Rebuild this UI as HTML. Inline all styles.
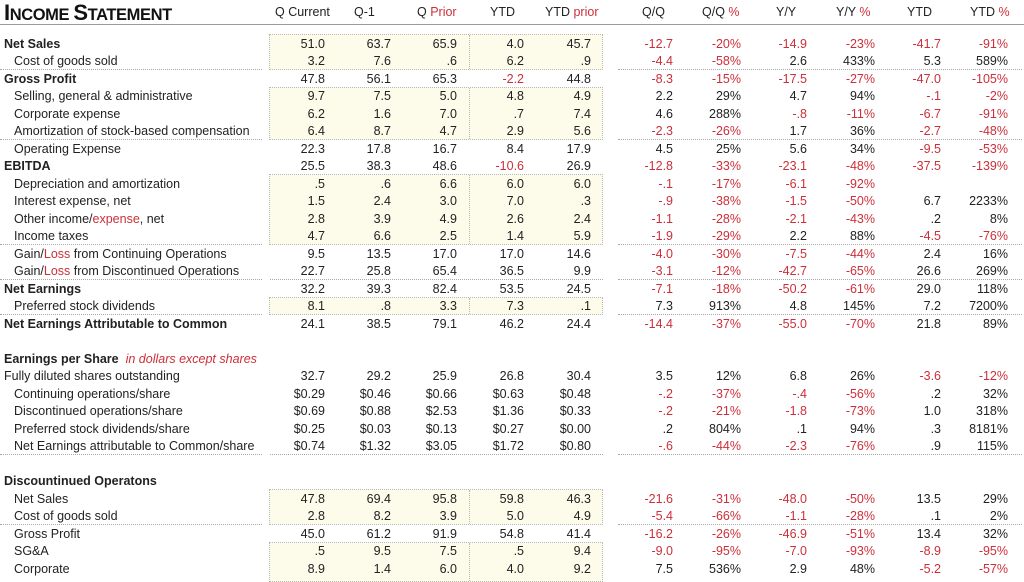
<!DOCTYPE html>
<html><head><meta charset="utf-8"><style>
*{margin:0;padding:0;box-sizing:border-box}
body{width:1024px;height:578px;background:#fff;position:relative;overflow:hidden;font-family:"Liberation Sans",sans-serif;font-size:12.5px;color:#222}
.t{position:absolute;left:4px;top:0px;font-weight:bold;font-size:16.5px;letter-spacing:-0.4px;color:#111}
.t big{font-size:22px}
.hl{position:absolute;left:0;top:24px;width:1024px;height:1px;background:#9a9a9a}
.h{position:absolute;top:5px;font-size:12.5px;white-space:nowrap}
.x{color:#cc2f3a}
.box{position:absolute;left:269px;width:334px;background:#fdfbe9;border:1px dotted #b8b8b8}
.box::after{content:"";position:absolute;left:199px;top:0;bottom:0;border-left:1px dotted #b8b8b8}
.dl{position:absolute;height:0;border-top:1px dotted #a8a8a8}
.r{position:absolute;left:0;width:1024px;height:17.5px;line-height:17.5px;white-space:nowrap;margin-top:1.5px}
.r span{position:absolute;top:0}
.l{left:14px}.lb{left:4px;font-weight:bold}
.a{right:699px}.b{right:633px}.c{right:567px}.d{right:500px}.e{right:433px}
.f{right:351px}.g{right:283px}.h2{right:217px}.i{right:149px}.j{right:83px}.k{right:16px}
</style></head><body>
<div class="t"><big>I</big>NCOME <big>S</big>TATEMENT</div>
<div class="h" style="left:275px">Q Current</div>
<div class="h" style="left:354px">Q-1</div>
<div class="h" style="left:417px">Q <span class="x">Prior</span></div>
<div class="h" style="left:490px">YTD</div>
<div class="h" style="left:545px">YTD <span class="x">prior</span></div>
<div class="h" style="left:642px">Q/Q</div>
<div class="h" style="left:702px">Q/Q <span class="x">%</span></div>
<div class="h" style="left:776px">Y/Y</div>
<div class="h" style="left:836px">Y/Y <span class="x">%</span></div>
<div class="h" style="left:907px">YTD</div>
<div class="h" style="left:970px">YTD <span class="x">%</span></div>
<div class="hl"></div>

<div class="box" style="top:34px;height:36px"></div>
<div class="box" style="top:87px;height:53px"></div>
<div class="box" style="top:174px;height:71px"></div>
<div class="box" style="top:297px;height:18px"></div>
<div class="box" style="top:489px;height:36px"></div>
<div class="box" style="top:542px;height:40px"></div>

<div class="dl" style="top:69px;left:0;width:262px"></div><div class="dl" style="top:69px;left:618px;width:404px"></div>
<div class="dl" style="top:139px;left:0;width:262px"></div><div class="dl" style="top:139px;left:618px;width:404px"></div>
<div class="dl" style="top:244px;left:0;width:262px"></div><div class="dl" style="top:244px;left:618px;width:404px"></div>
<div class="dl" style="top:279px;left:0;width:262px"></div><div class="dl" style="top:279px;left:270px;width:333px"></div><div class="dl" style="top:279px;left:618px;width:404px"></div>
<div class="dl" style="top:314px;left:0;width:262px"></div><div class="dl" style="top:314px;left:618px;width:404px"></div>
<div class="dl" style="top:454px;left:0;width:262px"></div><div class="dl" style="top:454px;left:270px;width:333px"></div><div class="dl" style="top:454px;left:618px;width:404px"></div>
<div class="dl" style="top:524px;left:0;width:262px"></div><div class="dl" style="top:524px;left:618px;width:404px"></div>

<div class="r" style="top:34.3px"><span class="lb">Net Sales</span><span class="a">51.0</span><span class="b">63.7</span><span class="c">65.9</span><span class="d">4.0</span><span class="e">45.7</span><span class="f x">-12.7</span><span class="g x">-20%</span><span class="h2 x">-14.9</span><span class="i x">-23%</span><span class="j x">-41.7</span><span class="k x">-91%</span></div>
<div class="r" style="top:51.8px"><span class="l">Cost of goods sold</span><span class="a">3.2</span><span class="b">7.6</span><span class="c">.6</span><span class="d">6.2</span><span class="e">.9</span><span class="f x">-4.4</span><span class="g x">-58%</span><span class="h2">2.6</span><span class="i">433%</span><span class="j">5.3</span><span class="k">589%</span></div>
<div class="r" style="top:69.3px"><span class="lb">Gross Profit</span><span class="a">47.8</span><span class="b">56.1</span><span class="c">65.3</span><span class="d x">-2.2</span><span class="e">44.8</span><span class="f x">-8.3</span><span class="g x">-15%</span><span class="h2 x">-17.5</span><span class="i x">-27%</span><span class="j x">-47.0</span><span class="k x">-105%</span></div>
<div class="r" style="top:86.8px"><span class="l">Selling, general &amp; administrative</span><span class="a">9.7</span><span class="b">7.5</span><span class="c">5.0</span><span class="d">4.8</span><span class="e">4.9</span><span class="f">2.2</span><span class="g">29%</span><span class="h2">4.7</span><span class="i">94%</span><span class="j x">-.1</span><span class="k x">-2%</span></div>
<div class="r" style="top:104.3px"><span class="l">Corporate expense</span><span class="a">6.2</span><span class="b">1.6</span><span class="c">7.0</span><span class="d">.7</span><span class="e">7.4</span><span class="f">4.6</span><span class="g">288%</span><span class="h2 x">-.8</span><span class="i x">-11%</span><span class="j x">-6.7</span><span class="k x">-91%</span></div>
<div class="r" style="top:121.8px"><span class="l">Amortization of stock-based compensation</span><span class="a">6.4</span><span class="b">8.7</span><span class="c">4.7</span><span class="d">2.9</span><span class="e">5.6</span><span class="f x">-2.3</span><span class="g x">-26%</span><span class="h2">1.7</span><span class="i">36%</span><span class="j x">-2.7</span><span class="k x">-48%</span></div>
<div class="r" style="top:139.3px"><span class="l">Operating Expense</span><span class="a">22.3</span><span class="b">17.8</span><span class="c">16.7</span><span class="d">8.4</span><span class="e">17.9</span><span class="f">4.5</span><span class="g">25%</span><span class="h2">5.6</span><span class="i">34%</span><span class="j x">-9.5</span><span class="k x">-53%</span></div>
<div class="r" style="top:156.8px"><span class="lb">EBITDA</span><span class="a">25.5</span><span class="b">38.3</span><span class="c">48.6</span><span class="d x">-10.6</span><span class="e">26.9</span><span class="f x">-12.8</span><span class="g x">-33%</span><span class="h2 x">-23.1</span><span class="i x">-48%</span><span class="j x">-37.5</span><span class="k x">-139%</span></div>
<div class="r" style="top:174.3px"><span class="l">Depreciation and amortization</span><span class="a">.5</span><span class="b">.6</span><span class="c">6.6</span><span class="d">6.0</span><span class="e">6.0</span><span class="f x">-.1</span><span class="g x">-17%</span><span class="h2 x">-6.1</span><span class="i x">-92%</span></div>
<div class="r" style="top:191.8px"><span class="l">Interest expense, net</span><span class="a">1.5</span><span class="b">2.4</span><span class="c">3.0</span><span class="d">7.0</span><span class="e">.3</span><span class="f x">-.9</span><span class="g x">-38%</span><span class="h2 x">-1.5</span><span class="i x">-50%</span><span class="j">6.7</span><span class="k">2233%</span></div>
<div class="r" style="top:209.3px"><span class="l">Other income/<span class="x" style="position:static">expense</span>, net</span><span class="a">2.8</span><span class="b">3.9</span><span class="c">4.9</span><span class="d">2.6</span><span class="e">2.4</span><span class="f x">-1.1</span><span class="g x">-28%</span><span class="h2 x">-2.1</span><span class="i x">-43%</span><span class="j">.2</span><span class="k">8%</span></div>
<div class="r" style="top:226.8px"><span class="l">Income taxes</span><span class="a">4.7</span><span class="b">6.6</span><span class="c">2.5</span><span class="d">1.4</span><span class="e">5.9</span><span class="f x">-1.9</span><span class="g x">-29%</span><span class="h2">2.2</span><span class="i">88%</span><span class="j x">-4.5</span><span class="k x">-76%</span></div>
<div class="r" style="top:244.3px"><span class="l">Gain/<span class="x" style="position:static">Loss</span> from Continuing Operations</span><span class="a">9.5</span><span class="b">13.5</span><span class="c">17.0</span><span class="d">17.0</span><span class="e">14.6</span><span class="f x">-4.0</span><span class="g x">-30%</span><span class="h2 x">-7.5</span><span class="i x">-44%</span><span class="j">2.4</span><span class="k">16%</span></div>
<div class="r" style="top:261.8px"><span class="l">Gain/<span class="x" style="position:static">Loss</span> from Discontinued Operations</span><span class="a">22.7</span><span class="b">25.8</span><span class="c">65.4</span><span class="d">36.5</span><span class="e">9.9</span><span class="f x">-3.1</span><span class="g x">-12%</span><span class="h2 x">-42.7</span><span class="i x">-65%</span><span class="j">26.6</span><span class="k">269%</span></div>
<div class="r" style="top:279.3px"><span class="lb">Net Earnings</span><span class="a">32.2</span><span class="b">39.3</span><span class="c">82.4</span><span class="d">53.5</span><span class="e">24.5</span><span class="f x">-7.1</span><span class="g x">-18%</span><span class="h2 x">-50.2</span><span class="i x">-61%</span><span class="j">29.0</span><span class="k">118%</span></div>
<div class="r" style="top:296.8px"><span class="l">Preferred stock dividends</span><span class="a">8.1</span><span class="b">.8</span><span class="c">3.3</span><span class="d">7.3</span><span class="e">.1</span><span class="f">7.3</span><span class="g">913%</span><span class="h2">4.8</span><span class="i">145%</span><span class="j">7.2</span><span class="k">7200%</span></div>
<div class="r" style="top:314.3px"><span class="lb">Net Earnings Attributable to Common</span><span class="a">24.1</span><span class="b">38.5</span><span class="c">79.1</span><span class="d">46.2</span><span class="e">24.4</span><span class="f x">-14.4</span><span class="g x">-37%</span><span class="h2 x">-55.0</span><span class="i x">-70%</span><span class="j">21.8</span><span class="k">89%</span></div>

<div class="r" style="top:349.3px"><span class="lb">Earnings per Share <i class="x" style="font-weight:normal">&nbsp;in dollars except shares</i></span></div>
<div class="r" style="top:366.8px"><span style="left:4px">Fully diluted shares outstanding</span><span class="a">32.7</span><span class="b">29.2</span><span class="c">25.9</span><span class="d">26.8</span><span class="e">30.4</span><span class="f">3.5</span><span class="g">12%</span><span class="h2">6.8</span><span class="i">26%</span><span class="j x">-3.6</span><span class="k x">-12%</span></div>
<div class="r" style="top:384.3px"><span class="l">Continuing operations/share</span><span class="a">$0.29</span><span class="b">$0.46</span><span class="c">$0.66</span><span class="d">$0.63</span><span class="e">$0.48</span><span class="f x">-.2</span><span class="g x">-37%</span><span class="h2 x">-.4</span><span class="i x">-56%</span><span class="j">.2</span><span class="k">32%</span></div>
<div class="r" style="top:401.8px"><span class="l">Discontinued operations/share</span><span class="a">$0.69</span><span class="b">$0.88</span><span class="c">$2.53</span><span class="d">$1.36</span><span class="e">$0.33</span><span class="f x">-.2</span><span class="g x">-21%</span><span class="h2 x">-1.8</span><span class="i x">-73%</span><span class="j">1.0</span><span class="k">318%</span></div>
<div class="r" style="top:419.3px"><span class="l">Preferred stock dividends/share</span><span class="a">$0.25</span><span class="b">$0.03</span><span class="c">$0.13</span><span class="d">$0.27</span><span class="e">$0.00</span><span class="f">.2</span><span class="g">804%</span><span class="h2">.1</span><span class="i">94%</span><span class="j">.3</span><span class="k">8181%</span></div>
<div class="r" style="top:436.8px"><span class="l">Net Earnings attributable to Common/share</span><span class="a">$0.74</span><span class="b">$1.32</span><span class="c">$3.05</span><span class="d">$1.72</span><span class="e">$0.80</span><span class="f x">-.6</span><span class="g x">-44%</span><span class="h2 x">-2.3</span><span class="i x">-76%</span><span class="j">.9</span><span class="k">115%</span></div>

<div class="r" style="top:471.8px"><span class="lb">Discountinued Operatons</span></div>
<div class="r" style="top:489.3px"><span class="l">Net Sales</span><span class="a">47.8</span><span class="b">69.4</span><span class="c">95.8</span><span class="d">59.8</span><span class="e">46.3</span><span class="f x">-21.6</span><span class="g x">-31%</span><span class="h2 x">-48.0</span><span class="i x">-50%</span><span class="j">13.5</span><span class="k">29%</span></div>
<div class="r" style="top:506.8px"><span class="l">Cost of goods sold</span><span class="a">2.8</span><span class="b">8.2</span><span class="c">3.9</span><span class="d">5.0</span><span class="e">4.9</span><span class="f x">-5.4</span><span class="g x">-66%</span><span class="h2 x">-1.1</span><span class="i x">-28%</span><span class="j">.1</span><span class="k">2%</span></div>
<div class="r" style="top:524.3px"><span class="l">Gross Profit</span><span class="a">45.0</span><span class="b">61.2</span><span class="c">91.9</span><span class="d">54.8</span><span class="e">41.4</span><span class="f x">-16.2</span><span class="g x">-26%</span><span class="h2 x">-46.9</span><span class="i x">-51%</span><span class="j">13.4</span><span class="k">32%</span></div>
<div class="r" style="top:541.8px"><span class="l">SG&amp;A</span><span class="a">.5</span><span class="b">9.5</span><span class="c">7.5</span><span class="d">.5</span><span class="e">9.4</span><span class="f x">-9.0</span><span class="g x">-95%</span><span class="h2 x">-7.0</span><span class="i x">-93%</span><span class="j x">-8.9</span><span class="k x">-95%</span></div>
<div class="r" style="top:559.3px"><span class="l">Corporate</span><span class="a">8.9</span><span class="b">1.4</span><span class="c">6.0</span><span class="d">4.0</span><span class="e">9.2</span><span class="f">7.5</span><span class="g">536%</span><span class="h2">2.9</span><span class="i">48%</span><span class="j x">-5.2</span><span class="k x">-57%</span></div>
</body></html>
